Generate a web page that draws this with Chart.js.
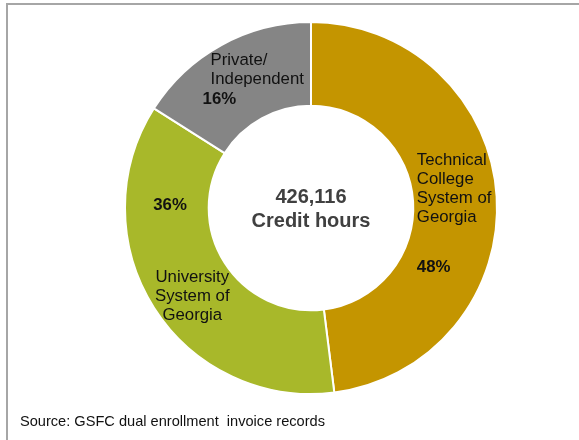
<!DOCTYPE html>
<html lang="en">
<head>
    <meta charset="UTF-8">
    <title>Dual enrollment credit hours</title>
    <script src="https://cdn.jsdelivr.net/npm/chart.js"></script>
    <style>
        html, body { margin: 0; padding: 0; background: #fff; }
        body { width: 579px; height: 440px; position: relative; overflow: hidden; font-family: "Liberation Sans", Arial, sans-serif; }
        .frame {
            position: absolute; left: 6px; top: 3px; width: 600px; height: 460px;
            border-left: 2px solid #a6a6a6;
            border-top: 2px solid #a6a6a6;
        }
        #wrap { position: absolute; left: 0; top: 0; width: 579px; height: 440px; }
        .source {
            position: absolute; left: 20px; top: 413px;
            font-size: 14.6px; color: #111; white-space: pre;
        }
    </style>
</head>
<body>
    <div class="frame"></div>
    <div id="wrap"><canvas id="chart" width="579" height="440"></canvas></div>
    <div class="source">Source: GSFC dual enrollment  invoice records</div>

    <script>
        // data
        const categories = ['Technical College System of Georgia', 'University System of Georgia', 'Private/ Independent'];
        const shares = [48, 36, 16];
        const totalHours = '426,116';
        const colors = ['#c49500', '#a8b82a', '#858585'];

        // label lines + offsets from the middle of each slice
        const labelLines = [
            ['Technical', 'College', 'System of', 'Georgia'],
            ['University', 'System of', 'Georgia'],
            ['Private/', 'Independent']
        ];
        const labelLayout = [
            { nx: -38, ny: -39, nAlign: 'left',   px: -38, py: 68,  pAlign: 'left' },
            { nx: 3,   ny: -8,  nAlign: 'center', px: -36, py: -80, pAlign: 'left' },
            { nx: -31, ny: -21, nAlign: 'left',   px: -39, py: 18,  pAlign: 'left' }
        ];

        const labelPlugin = {
            id: 'sliceLabels',
            afterDraw(chart) {
                const ctx = chart.ctx;
                const arcs = chart.getDatasetMeta(0).data;
                ctx.save();
                ctx.textBaseline = 'middle';
                arcs.forEach((arc, i) => {
                    const p = arc.tooltipPosition();
                    const l = labelLayout[i];
                    ctx.fillStyle = '#111';
                    ctx.font = '16.8px "Liberation Sans", Arial, sans-serif';
                    ctx.textAlign = l.nAlign;
                    labelLines[i].forEach((line, k) => {
                        ctx.fillText(line, p.x + l.nx, p.y + l.ny + k * 19);
                    });
                    ctx.font = 'bold 16.8px "Liberation Sans", Arial, sans-serif';
                    ctx.textAlign = l.pAlign;
                    ctx.fillText(shares[i] + '%', p.x + l.px, p.y + l.py);
                });
                // centre text
                const c = arcs[0];
                ctx.fillStyle = '#404040';
                ctx.textAlign = 'center';
                ctx.font = 'bold 20px "Liberation Sans", Arial, sans-serif';
                ctx.fillText(totalHours, c.x, c.y - 11);
                ctx.fillText('Credit hours', c.x, c.y + 13);
                ctx.restore();
            }
        };

        new Chart(document.getElementById('chart').getContext('2d'), {
            type: 'doughnut',
            data: {
                labels: categories,
                datasets: [{
                    data: shares,
                    backgroundColor: colors,
                    borderColor: '#ffffff',
                    borderWidth: 2
                }]
            },
            options: {
                responsive: false,
                animation: false,
                cutout: '55%',
                layout: { padding: { left: 124, right: 81, top: 21, bottom: 45 } },
                plugins: {
                    legend: { display: false },
                    tooltip: { enabled: false }
                }
            },
            plugins: [labelPlugin]
        });
    </script>
</body>
</html>
